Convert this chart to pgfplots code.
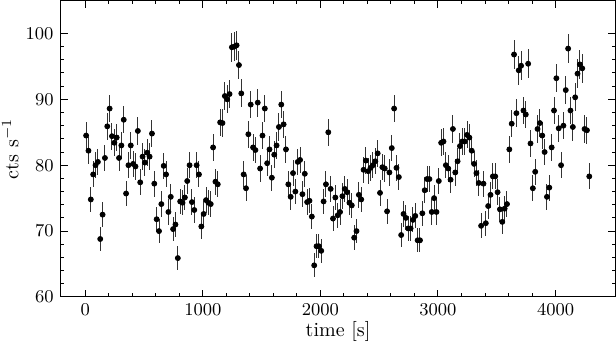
\documentclass[border=0pt]{standalone}
\usepackage{pgfplots}
\pgfplotsset{compat=1.18}
\usepackage{pgfplotstable}

% light curve, 20 s bins: time, rate, 1-sigma error
\pgfplotstableread{
t y e
7 84.5 2.06
27 82.2 2.03
47 74.8 1.93
67 78.6 1.98
87 80.0 2.00
107 80.5 2.01
127 68.8 1.85
147 72.5 1.90
167 81.1 2.01
187 85.9 2.07
207 88.6 2.10
227 84.4 2.05
247 83.4 2.04
267 84.2 2.05
287 81.1 2.01
307 83.0 2.04
327 86.9 2.08
347 75.7 1.95
367 80.0 2.00
387 83.0 2.04
407 80.2 2.00
427 79.8 2.00
447 85.2 2.06
467 77.4 1.97
487 81.3 2.02
507 80.4 2.00
527 81.9 2.02
547 81.3 2.02
567 84.8 2.06
587 77.2 1.96
607 71.8 1.89
627 70.0 1.87
647 74.1 1.92
667 79.9 2.00
687 78.6 1.98
707 72.9 1.91
727 75.2 1.94
747 70.3 1.87
767 71.0 1.88
787 65.9 1.82
807 74.5 1.93
827 74.3 1.93
847 75.1 1.94
867 77.6 1.97
887 80.0 2.00
907 74.4 1.93
927 73.2 1.91
947 80.0 2.00
967 78.6 1.98
987 70.7 1.88
1007 72.6 1.91
1027 74.7 1.93
1047 74.3 1.93
1067 74.1 1.92
1087 82.7 2.03
1107 77.5 1.97
1127 77.1 1.96
1147 86.5 2.08
1167 86.4 2.08
1187 90.5 2.13
1207 90.0 2.12
1227 90.8 2.13
1247 97.9 2.21
1267 98.0 2.21
1287 98.2 2.22
1307 95.2 2.18
1327 90.9 2.13
1347 78.6 1.98
1367 76.5 1.96
1387 84.7 2.06
1407 89.2 2.11
1427 82.7 2.03
1447 82.3 2.03
1467 89.5 2.12
1487 79.5 1.99
1507 84.5 2.06
1527 88.6 2.10
1547 80.3 2.00
1567 82.4 2.03
1587 78.1 1.98
1607 81.6 2.02
1627 83.0 2.04
1647 85.8 2.07
1667 89.2 2.11
1687 86.2 2.08
1707 82.4 2.03
1727 77.1 1.96
1747 75.2 1.94
1767 78.8 1.98
1787 76.0 1.95
1807 80.5 2.01
1827 80.8 2.01
1847 75.6 1.94
1867 78.7 1.98
1887 74.4 1.93
1907 74.6 1.93
1927 72.2 1.90
1947 64.8 1.80
1967 67.7 1.84
1987 67.7 1.84
2007 67.0 1.83
2027 74.5 1.93
2047 77.1 1.96
2067 85.0 2.06
2087 76.4 1.95
2107 71.9 1.90
2127 75.1 1.94
2147 72.4 1.90
2167 72.9 1.91
2187 75.3 1.94
2207 76.4 1.95
2227 75.9 1.95
2247 74.3 1.93
2267 73.9 1.92
2287 69.0 1.86
2307 70.0 1.87
2327 75.5 1.94
2347 74.8 1.93
2367 79.3 1.99
2387 80.7 2.01
2407 79.1 1.99
2427 79.6 1.99
2447 80.0 2.00
2467 80.6 2.01
2487 81.8 2.02
2507 75.8 1.95
2527 79.7 2.00
2547 79.5 1.99
2567 73.0 1.91
2587 78.9 1.99
2607 82.6 2.03
2627 88.6 2.10
2647 79.6 1.99
2667 78.2 1.98
2687 69.4 1.86
2707 72.6 1.91
2727 72.0 1.90
2747 70.4 1.88
2767 70.4 1.88
2787 71.7 1.89
2807 72.3 1.90
2827 68.6 1.85
2847 68.6 1.85
2867 72.7 1.91
2887 76.2 1.95
2907 77.9 1.97
2927 77.9 1.97
2947 72.9 1.91
2967 75.0 1.94
2987 72.9 1.91
3007 77.6 1.97
3027 83.4 2.04
3047 83.6 2.04
3067 80.0 2.00
3087 79.5 1.99
3107 77.8 1.97
3127 85.5 2.07
3147 78.9 1.99
3167 80.6 2.01
3187 82.9 2.04
3207 83.6 2.04
3227 83.6 2.04
3247 84.6 2.06
3267 84.2 2.05
3287 82.2 2.03
3307 80.2 2.00
3327 78.8 1.98
3347 77.3 1.97
3367 70.8 1.88
3387 77.2 1.96
3407 71.2 1.89
3427 73.8 1.92
3447 75.5 1.94
3467 78.3 1.98
3487 78.3 1.98
3507 75.9 1.95
3527 73.3 1.91
3547 71.4 1.89
3567 73.4 1.92
3587 74.1 1.92
3607 82.4 2.03
3627 86.3 2.08
3647 96.8 2.20
3667 87.9 2.10
3687 94.4 2.17
3707 95.1 2.18
3727 88.3 2.10
3747 87.7 2.09
3767 95.4 2.18
3787 83.3 2.04
3807 76.5 1.96
3827 79.0 1.99
3847 85.5 2.07
3867 86.4 2.08
3887 84.5 2.06
3907 82.0 2.02
3927 75.2 1.94
3947 76.6 1.96
3967 82.7 2.03
3987 88.3 2.10
4007 93.2 2.16
4027 85.6 2.07
4047 80.0 2.00
4067 86.0 2.07
4087 91.4 2.14
4107 97.7 2.21
4127 88.3 2.10
4147 85.8 2.07
4167 90.3 2.12
4187 93.9 2.17
4207 95.3 2.18
4227 94.7 2.18
4247 85.5 2.07
4267 85.3 2.07
4287 78.3 1.98
}\lc

\begin{document}
\begin{tikzpicture}
\begin{axis}[
  scale only axis, width=277pt, height=148pt,
  xmin=-210, xmax=4510, ymin=60, ymax=105,
  xtick={0,1000,2000,3000,4000}, ytick={60,70,80,90,100},
  minor x tick num=4, minor y tick num=4,
  tick align=inside, major tick length=3.5pt, minor tick length=1.75pt,
  axis line style={line width=0.5pt},
  every tick/.style={black, line width=0.5pt},
  tick label style={font=\fontsize{9.5}{11}\selectfont},
  x tick label style={/pgf/number format/1000 sep={}},
  scaled x ticks=false,
  xlabel={time [s]}, ylabel={cts s$^{-1}$},
  label style={font=\fontsize{10}{12}\selectfont},
  xlabel style={yshift=4pt},
  ylabel style={at={(axis description cs:-0.0715,0.5)}, anchor=south, inner sep=1pt},
]
\addplot[only marks, mark=*, mark size=1.25pt, black,
  error bars/.cd, y dir=both, y explicit,
  error bar style={line width=0.5pt, black!80}, error mark=none]
  table[x=t, y=y, y error=e] {\lc};
\end{axis}
\end{tikzpicture}
\end{document}
